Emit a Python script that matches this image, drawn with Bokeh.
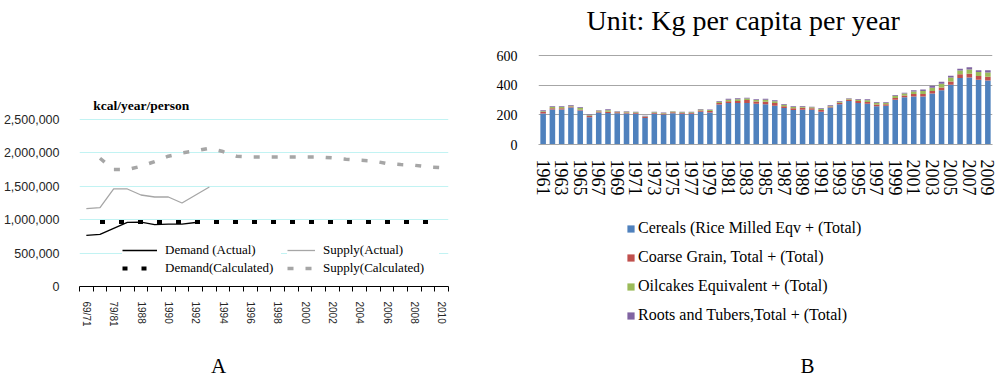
import numpy as np
from bokeh.plotting import figure
from bokeh.models import (Range1d, FixedTicker, NumeralTickFormatter, Label, Legend,
                          LegendItem, ColumnDataSource)
from bokeh.layouts import row, column
from bokeh.embed import file_html
from bokeh.resources import INLINE

# ---------------- Panel A data ----------------
periods = ["69/71", "74/76", "79/81", "1987", "1988", "1989", "1990", "1991", "1992",
           "1993", "1994", "1995", "1996", "1997", "1998", "1999", "2000", "2001",
           "2002", "2003", "2004", "2005", "2006", "2007", "2008", "2009", "2010"]
demand_actual = [765000, 780000, 870000, 960000, 965000, 926000, 935000, 935000, 958000,
                 None, None, None, None, None, None, None, None, None,
                 None, None, None, None, None, None, None, None, None]
supply_actual = [1165000, 1180000, 1460000, 1460000, 1370000, 1340000, 1340000, 1250000,
                 1370000, 1490000, None, None, None, None, None, None, None, None,
                 None, None, None, None, None, None, None, None, None]
demand_calc = [None, 965000, 965000, 965000, 965000, 965000, 965000, 965000, 965000,
               965000, 965000, 965000, 965000, 965000, 965000, 965000, 965000, 965000,
               965000, 965000, 965000, 965000, 965000, 965000, 965000, 965000, 965000]
supply_calc = [None, 1920000, 1750000, 1750000, 1800000, 1870000, 1950000, 2000000,
               2030000, 2070000, 2020000, 1950000, 1940000, 1940000, 1940000, 1940000,
               1940000, 1940000, 1925000, 1905000, 1890000, 1880000, 1840000, 1825000,
               1815000, 1790000, 1780000]
a_yticks = [0, 500000, 1000000, 1500000, 2000000, 2500000]

# ---------------- Panel B data ----------------
years = [1961, 1962, 1963, 1964, 1965, 1966, 1967, 1968, 1969, 1970, 1971, 1972, 1973,
         1974, 1975, 1976, 1977, 1978, 1979, 1980, 1981, 1982, 1983, 1984, 1985, 1986,
         1987, 1988, 1989, 1990, 1991, 1992, 1993, 1994, 1995, 1996, 1997, 1998, 1999,
         2000, 2001, 2002, 2003, 2004, 2005, 2006, 2007, 2008, 2009]
cereals = [209, 236, 236, 249, 229, 184, 216, 213, 211, 209, 207, 178, 207, 202, 211, 207,
           207, 220, 216, 270, 279, 279, 280, 275, 271, 262, 246, 233, 235, 235, 220, 249,
           271, 293, 280, 275, 258, 262, 302, 318, 323, 323, 343, 365, 403, 448, 452, 437,
           432]
coarse = [10, 8, 8, 8, 6, 8, 7, 8, 6, 7, 6, 7, 6, 7, 7, 6, 6, 10, 10, 10, 12, 14, 20, 15,
          18, 18, 12, 12, 12, 10, 12, 7, 10, 10, 13, 12, 12, 10, 12, 12, 18, 18, 18, 20,
          22, 25, 25, 25, 25]
oilcakes = [6, 8, 8, 5, 12, 5, 4, 10, 4, 5, 4, 4, 4, 4, 4, 4, 4, 6, 6, 7, 10, 12, 10, 10,
            12, 12, 10, 8, 8, 6, 7, 4, 6, 5, 9, 12, 12, 8, 14, 13, 16, 20, 22, 25, 26, 26,
            28, 26, 28]
roots = [6, 6, 6, 5, 5, 5, 4, 7, 4, 4, 3, 4, 3, 3, 3, 3, 3, 4, 4, 5, 7, 7, 6, 5, 8, 6, 5,
         5, 5, 4, 5, 4, 4, 3, 5, 6, 5, 4, 6, 6, 8, 9, 13, 13, 13, 12, 15, 12, 15]
b_stack = ["cereals", "coarse", "oilcakes", "roots"]
b_series = ["Cereals (Rice Milled Eqv + (Total)", "Coarse Grain, Total + (Total)",
            "Oilcakes Equivalent + (Total)", "Roots and Tubers,Total + (Total)"]
b_colors = ["#4F81BD", "#C0504D", "#9BBB59", "#8064A2"]
b_yticks = [0, 200, 400, 600]

SERIF = "Liberation Serif"
SANS = "Liberation Sans"


def nan(lst):
    return [np.nan if v is None else v for v in lst]


def no_align(f):
    if "frame_align" in f.properties():
        f.frame_align = False


def blank(f):
    no_align(f)
    f.outline_line_color = None
    f.grid.visible = False


# Page layout (page px, origin top-left):
# A column: chart 0..350 + strip 350..381 ; B column: chart 0..200 + legend strip 200..381
A_W, B_W = 480, 520
A_H, B_H = 350, 200
PAGE_H = 381

# ================= Panel A =================
n = len(periods)
xi = list(range(n))
a_px = 2500000 / (286 - 119)          # value 0 at y=286, 2.5M at y=119
pa = figure(width=A_W, height=A_H, output_backend="svg", toolbar_location=None,
            x_range=Range1d(-0.5, n - 0.5), y_range=Range1d(0, 286 * a_px),
            min_border_left=77, min_border_right=A_W - 448, min_border_top=0,
            min_border_bottom=A_H - 286)
no_align(pa)
pa.outline_line_color = None
pa.xgrid.grid_line_color = None
pa.ygrid.ticker = FixedTicker(ticks=a_yticks[1:])
pa.ygrid.grid_line_color = "#c2f3f3"
pa.ygrid.grid_line_width = 1

ya = pa.yaxis[0]
ya.ticker = FixedTicker(ticks=a_yticks)
ya.formatter = NumeralTickFormatter(format="0,0")
ya.axis_line_color = None
ya.major_tick_line_color = None
ya.minor_tick_line_color = None
ya.major_label_text_font = SANS
ya.major_label_text_font_size = "12.5px"
ya.major_label_text_color = "#262626"
ya.major_label_standoff = 14

xa = pa.xaxis[0]
xa.ticker = FixedTicker(ticks=xi[::2], minor_ticks=[i - 0.5 for i in range(n + 1)])
xa.major_label_overrides = {i: periods[i] for i in xi[::2]}
xa.axis_line_color = "black"
xa.major_tick_in = 0
xa.major_tick_out = 0
xa.minor_tick_in = 0
xa.minor_tick_out = 5
xa.minor_tick_line_color = "black"
xa.major_label_orientation = "vertical"
xa.major_label_text_font = SANS
xa.major_label_text_font_size = "10px"
xa.major_label_text_color = "#262626"
xa.major_label_standoff = 10

r_da = pa.line(xi, nan(demand_actual), line_color="black", line_width=1.3)
r_sa = pa.line(xi, nan(supply_actual), line_color="#a6a6a6", line_width=1.3)
r_dc = pa.line(xi, nan(demand_calc), line_color="black", line_width=4, line_dash="5 14")
r_sc = pa.line(xi, nan(supply_calc), line_color="#a6a6a6", line_width=3.5, line_dash="6 12")

common_leg = dict(orientation="vertical", glyph_height=16, label_height=16, spacing=2,
                  padding=3, margin=0, label_standoff=8, label_width=116,
                  label_text_font=SERIF, label_text_font_size="13px",
                  label_text_color="black", background_fill_color="white",
                  background_fill_alpha=1.0, border_line_color=None)
leg1 = Legend(items=[LegendItem(label="Demand (Actual)", renderers=[r_da]),
                     LegendItem(label="Demand(Calculated)", renderers=[r_dc])],
              location=(43, 10), glyph_width=35, **common_leg)
leg2 = Legend(items=[LegendItem(label="Supply(Actual)", renderers=[r_sa]),
                     LegendItem(label="Supply(Calculated)", renderers=[r_sc])],
              location=(208, 10), glyph_width=28, **common_leg)
pa.add_layout(leg1)
pa.add_layout(leg2)

pa.add_layout(Label(x=0.5, y=(286 - 105) * a_px, text="kcal/year/person", text_font=SERIF,
                    text_font_style="bold", text_font_size="13.5px", text_color="black",
                    text_align="left", text_baseline="middle"))

# strip with the letter "A" (page coordinates)
fa = figure(width=A_W, height=PAGE_H - A_H, output_backend="svg", toolbar_location=None,
            x_range=Range1d(0, A_W), y_range=Range1d(PAGE_H, A_H), min_border=0,
            x_axis_location=None, y_axis_location=None)
blank(fa)
fa.add_layout(Label(x=218, y=365, text="A", text_font=SERIF, text_font_size="21px",
                    text_color="black", text_align="center", text_baseline="middle"))

# ================= Panel B =================
b_px = 600 / (144 - 55)               # 600 at y=55, 0 at y=144
src = ColumnDataSource(dict(year=years, cereals=cereals, coarse=coarse,
                            oilcakes=oilcakes, roots=roots))
pb = figure(width=B_W, height=B_H, output_backend="svg", toolbar_location=None,
            x_range=Range1d(years[0] - 0.5, years[-1] + 0.5),
            y_range=Range1d(0, 600 + 55 * b_px),
            min_border_left=538 - A_W, min_border_right=A_W + B_W - 992, min_border_top=0,
            min_border_bottom=B_H - 144)
no_align(pb)
pb.outline_line_color = None
pb.xgrid.grid_line_color = None
pb.ygrid.ticker = FixedTicker(ticks=b_yticks)
pb.ygrid.grid_line_color = "#a6a6a6"
pb.ygrid.grid_line_width = 1.2

pb.vbar_stack(b_stack, x="year", width=0.6, fill_color=b_colors, line_color=None,
              source=src)

yb = pb.yaxis[0]
yb.ticker = FixedTicker(ticks=b_yticks)
yb.axis_line_color = None
yb.major_tick_line_color = None
yb.minor_tick_line_color = None
yb.major_label_text_font = SERIF
yb.major_label_text_font_size = "14px"
yb.major_label_text_color = "black"
yb.major_label_standoff = 15

xb = pb.xaxis[0]
xb.ticker = FixedTicker(ticks=years[::2])
xb.axis_line_color = "#a6a6a6"
xb.axis_line_width = 1.2
xb.major_tick_line_color = None
xb.minor_tick_line_color = None
xb.major_tick_out = 0
xb.major_tick_in = 0
xb.major_label_orientation = "vertical"
xb.major_label_text_font = SERIF
xb.major_label_text_font_size = "18px"
xb.major_label_text_color = "black"
xb.major_label_standoff = 15

pb.add_layout(Label(x=1982.6, y=600 + (55 - 20) * b_px, text="Unit: Kg per capita per year",
                    text_font=SERIF, text_font_size="28px", text_color="black",
                    text_align="center", text_baseline="middle"))

# legend strip below panel B (page coordinates). Its swatch renderers reuse the data,
# but lie outside this strip's x range, so only the legend shows.
fb = figure(width=B_W, height=PAGE_H - B_H, output_backend="svg", toolbar_location=None,
            x_range=Range1d(A_W, A_W + B_W), y_range=Range1d(PAGE_H, B_H), min_border=0,
            x_axis_location=None, y_axis_location=None)
blank(fb)
sw = fb.vbar_stack(b_stack, x="year", width=0.6, fill_color=b_colors, line_color=None,
                   source=src)
legb = Legend(items=[LegendItem(label=lab, renderers=[r]) for lab, r in zip(b_series, sw)],
              location=(626 - A_W, PAGE_H - 325), orientation="vertical", glyph_width=9,
              glyph_height=9, label_height=20, spacing=9, padding=0, margin=0,
              label_standoff=3, label_text_font=SERIF, label_text_font_size="16px",
              label_text_color="black", background_fill_alpha=0, border_line_color=None)
fb.add_layout(legb)
fb.add_layout(Label(x=807, y=365, text="B", text_font=SERIF, text_font_size="21px",
                    text_color="black", text_align="center", text_baseline="middle"))

layout = row(column(pa, fa), column(pb, fb))
open("out.html", "w").write(file_html(layout, INLINE))
